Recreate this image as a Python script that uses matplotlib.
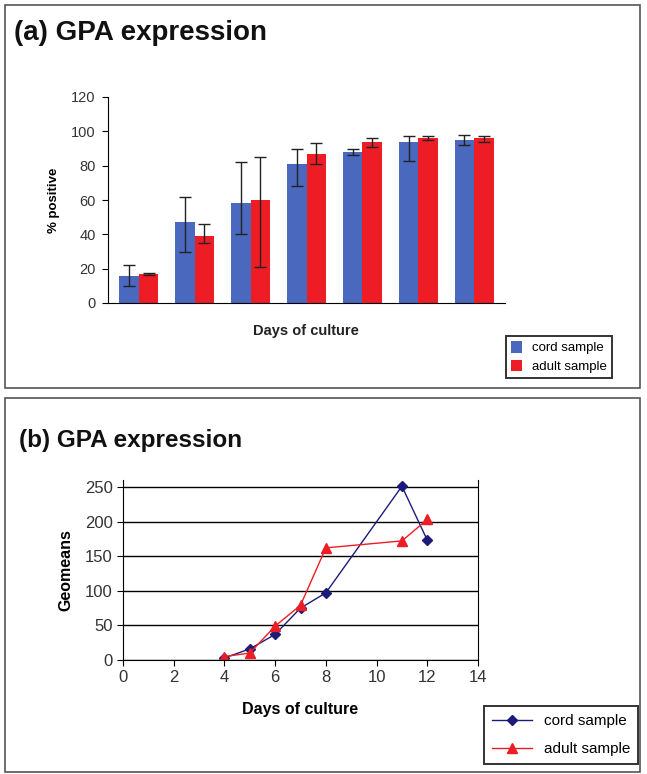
import matplotlib.pyplot as plt
from matplotlib.patches import Rectangle

plt.rcParams['font.family'] = ['Liberation Sans', 'DejaVu Sans']

# panel (a): % positive per day group
groups = range(7)
cord_pct = [16, 47, 58, 81, 88, 94, 95]
adult_pct = [17, 39, 60, 87, 94, 96, 96]
cord_lo = [10, 30, 40, 68, 86, 83, 92]
cord_hi = [22, 62, 82, 90, 90, 97, 98]
adult_lo = [16.5, 35, 21, 81, 91, 95, 94]
adult_hi = [17.5, 46, 85, 93, 96, 97, 97]

# panel (b): geomeans
cord_days = [4, 5, 6, 7, 8, 11, 12]
cord_geo = [3, 16, 37, 75, 97, 251, 173]
adult_days = [4, 5, 6, 7, 8, 11, 12]
adult_geo = [5, 10, 49, 79, 162, 172, 203]

W, H = 647, 774
fig = plt.figure(figsize=(W / 100, H / 100), dpi=100)

def fx(px):
    return px / W

def fy(py):
    return 1 - py / H

# panel frames
fig.patches.append(Rectangle((fx(5), fy(388)), fx(635), 383 / H, transform=fig.transFigure,
                             fill=False, edgecolor='#555555', lw=1.2))
fig.patches.append(Rectangle((fx(5), fy(772)), fx(635), 374 / H, transform=fig.transFigure,
                             fill=False, edgecolor='#555555', lw=1.2))

# ---- (a)
ax1 = fig.add_axes([fx(108), fy(303), fx(505) - fx(108), (303 - 97) / H])
w = 0.35
xc = [g - w / 2 for g in groups]
xa = [g + w / 2 for g in groups]
cord_err = [[v - lo for v, lo in zip(cord_pct, cord_lo)], [hi - v for v, hi in zip(cord_pct, cord_hi)]]
adult_err = [[v - lo for v, lo in zip(adult_pct, adult_lo)], [hi - v for v, hi in zip(adult_pct, adult_hi)]]
ax1.bar(xc, cord_pct, w, color='#4a68be', label='cord sample',
        yerr=cord_err, capsize=4.5, error_kw=dict(ecolor='#222222', lw=1))
ax1.bar(xa, adult_pct, w, color='#ee1c24', label='adult sample',
        yerr=adult_err, capsize=4.5, error_kw=dict(ecolor='#222222', lw=1))
ax1.set_xlim(-0.55, 6.55)
ax1.set_ylim(0, 120)
ax1.set_yticks(range(0, 121, 20))
ax1.set_xticks([])
ax1.tick_params(axis='y', labelsize=10.5, labelcolor='#333333', length=4, pad=5)
for s in ['top', 'right']:
    ax1.spines[s].set_visible(False)
ax1.set_ylabel('% positive', fontsize=9.5, fontweight='bold', labelpad=8)
fig.text(fx(306), fy(331), 'Days of culture', fontsize=10.5, fontweight='bold',
         ha='center', va='center', color='#222222')
fig.text(fx(14), fy(33), '(a) GPA expression', fontsize=20, fontweight='bold',
         ha='left', va='center', color='#111111')
leg1 = ax1.legend(loc='center', bbox_to_anchor=(fx(559), fy(357)), bbox_transform=fig.transFigure,
                  fontsize=9.5, frameon=True, fancybox=False, edgecolor='black',
                  handlelength=0.8, handleheight=1.0, borderpad=0.4, labelspacing=0.4,
                  borderaxespad=0)
leg1.get_frame().set_linewidth(1.4)

# ---- (b)
ax2 = fig.add_axes([fx(123), fy(660), fx(478) - fx(123), (660 - 480) / H])
ax2.plot(cord_days, cord_geo, color='#1c1c78', marker='D', markersize=5, lw=1, label='cord sample')
ax2.plot(adult_days, adult_geo, color='#ee1c24', marker='^', markersize=7, lw=1, label='adult sample')
ax2.set_xlim(0, 14)
ax2.set_ylim(0, 260)
ax2.set_xticks(range(0, 15, 2))
ax2.set_yticks(range(0, 251, 50))
ax2.yaxis.grid(True, color='black', lw=1)
ax2.set_axisbelow(True)
ax2.spines['top'].set_visible(False)
ax2.tick_params(axis='both', labelsize=12, labelcolor='#333333', length=4)
ax2.set_xlabel('Days of culture', fontsize=11.5, fontweight='bold', labelpad=12)
ax2.set_ylabel('Geomeans', fontsize=11.5, fontweight='bold', labelpad=8)
fig.text(fx(19), fy(440), '(b) GPA expression', fontsize=17.5, fontweight='bold',
         ha='left', va='center', color='#111111')
leg2 = ax2.legend(loc='center', bbox_to_anchor=(fx(561), fy(735)), bbox_transform=fig.transFigure,
                  fontsize=11, frameon=True, fancybox=False, edgecolor='black',
                  handlelength=2.6, borderpad=0.5, labelspacing=0.9, borderaxespad=0)
leg2.get_frame().set_linewidth(1.4)

fig.savefig('out.png', dpi=100)
